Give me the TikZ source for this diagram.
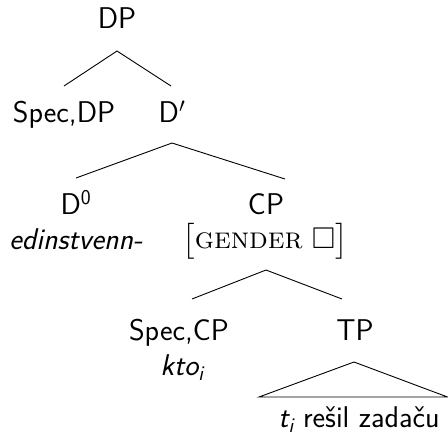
\documentclass[tikz,border=0pt]{standalone}
\usepackage{amsmath}
\usepackage{amssymb}
\begin{document}
\begin{tikzpicture}[x=1pt,y=-1pt,
  lbl/.style={anchor=base,inner sep=0pt,font=\fontsize{30}{36}\selectfont\sffamily},
  ilbl/.style={lbl,font=\fontsize{30}{36}\selectfont\sffamily\itshape},
  br/.style={line width=0.9pt}]
\useasboundingbox (0,0) rectangle (448,437);
\node[lbl] (dp) at (117,28) {DP};
\node[lbl] (specdp) at (64,122) {Spec,DP};
\node[lbl] (dbar) at (172,122) {D$'$};
\node[lbl] (d0) at (76,214) {D\textsuperscript{0}};
\node[ilbl] (edin) at (76,249) {edinstvenn-};
\node[lbl] (cp) at (266,214) {CP};
\node[lbl,font=\fontsize{30}{36}\selectfont\rmfamily] (feat) at (265,248) {$\bigl[$\textsc{gender} $\square\bigr]$};
\node[lbl] (speccp) at (179,340) {Spec,CP};
\node[ilbl] (kto) at (182,375) {kto\textsubscript{i}};
\node[lbl] (tp) at (355,340) {TP};
\node[lbl] (yield) at (359,427) {{\itshape t\textsubscript{i}} rešil zadaču};
\coordinate (a1) at (117,51);
\coordinate (l1) at (64,86);
\coordinate (r1) at (171,86);
\draw[br] (l1) -- (a1) -- (r1);
\coordinate (a2) at (172,143);
\coordinate (l2) at (76,178);
\coordinate (r2) at (285,179);
\draw[br] (l2) -- (a2) -- (r2);
\coordinate (a3) at (266,270);
\coordinate (l3) at (192,299);
\coordinate (r3) at (342,299);
\draw[br] (l3) -- (a3) -- (r3);
\coordinate (a4) at (354,362);
\coordinate (l4) at (259,397);
\coordinate (r4) at (447.5,397);
\draw[br] (a4) -- (l4) -- (r4) -- cycle;
\end{tikzpicture}
\end{document}
